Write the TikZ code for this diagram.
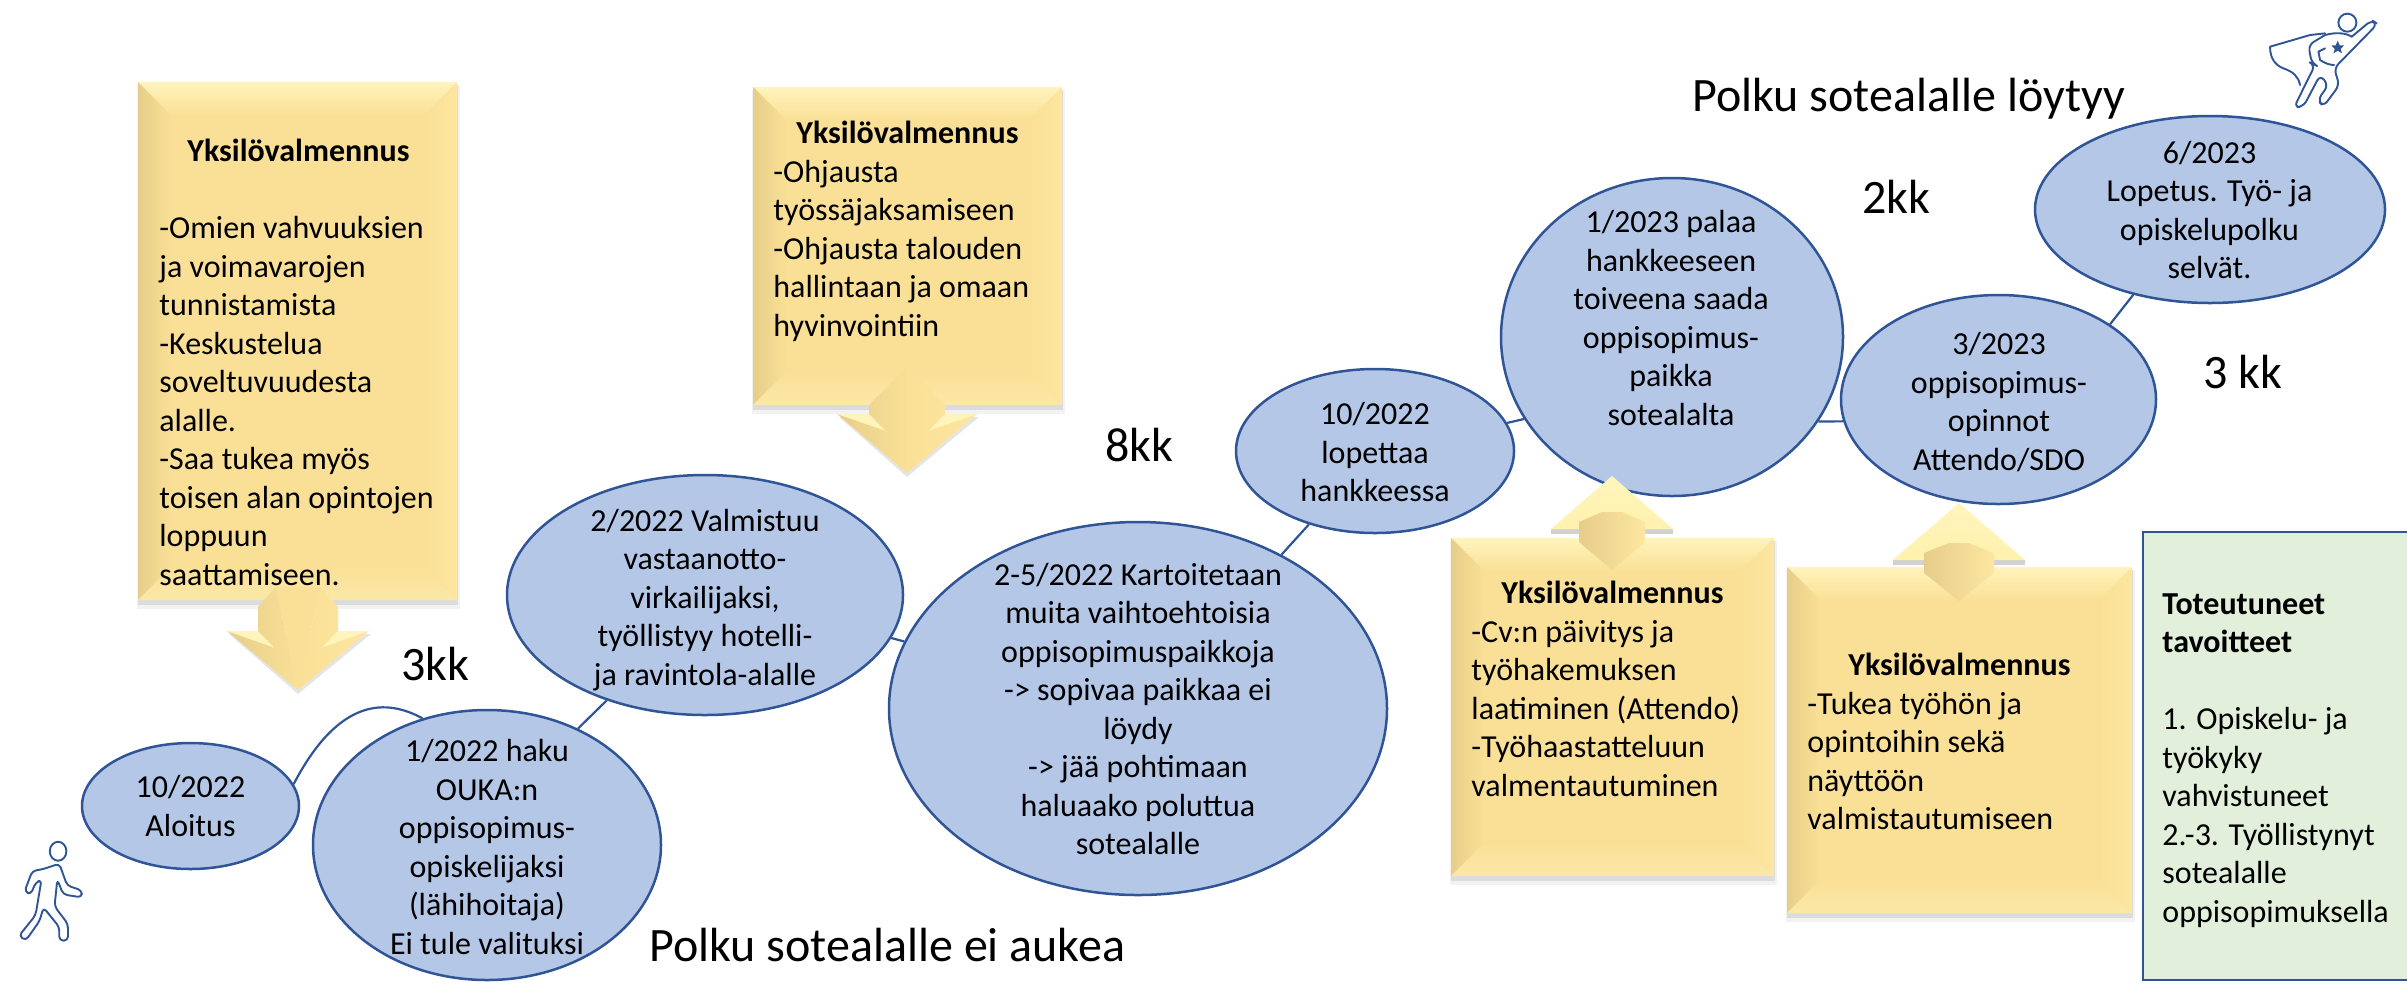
\documentclass[tikz,border=0pt]{standalone}
\usepackage{fontspec}
\setmainfont{Carlito}
\usetikzlibrary{shapes.geometric}
\definecolor{ovalfill}{HTML}{B4C7E7}
\definecolor{ovalline}{HTML}{2F5597}
\definecolor{ymid}{HTML}{FAE096}
\definecolor{ylight}{HTML}{FFF4BC}
\definecolor{ypale}{HTML}{FFF2AE}
\definecolor{ydark}{HTML}{E6CE8A}
\definecolor{yright}{HTML}{FDE6A0}
\definecolor{ybot}{HTML}{FBE8A8}
\definecolor{greenfill}{HTML}{E2EFDA}
\tikzset{
  oval/.style={ellipse,draw=ovalline,fill=ovalfill,line width=1.25pt,inner sep=0pt},
  conn/.style={draw=ovalline,line width=1.1pt},
  body/.style={font=\fontsize{16}{19.25}\selectfont,align=center,inner sep=0pt,text=black},
  lefttxt/.style={font=\fontsize{16}{19.25}\selectfont,align=left,inner sep=0pt,anchor=north west,text=black},
  biglbl/.style={font=\fontsize{24}{28}\selectfont,inner sep=0pt,anchor=base west,text=black},
  yelbox/.style={rectangle,fill=ymid,inner sep=0pt},
  icon/.style={draw=ovalline,line width=0.95pt,line join=round,line cap=round},
}
% name, x1, y1, x2, y2
\newcommand{\yelbevel}[5]{%
  \fill[black,opacity=.05] ({#2-1},{#3+3}) rectangle ({#4+3},{#5+9});
  \fill[black,opacity=.09] ({#2},{#3+3}) rectangle ({#4+1},{#5+5});
  \node[yelbox,minimum width={(#4-#2)*0.5pt},minimum height={(#5-#3)*0.5pt}] (#1) at ({(#2+#4)/2},{(#3+#5)/2}) {};
  \shade[top color=ylight,bottom color=ymid] (#2,#3) -- (#4,#3) -- ({#4-33},{#3+33}) -- ({#2+33},{#3+33}) -- cycle;
  \shade[left color=ydark,right color=ymid] (#2,#3) -- ({#2+33},{#3+33}) -- ({#2+33},{#5-33}) -- (#2,#5) -- cycle;
  \shade[left color=ymid,right color=yright] (#4,#3) -- ({#4-33},{#3+33}) -- ({#4-33},{#5-33}) -- (#4,#5) -- cycle;
  \shade[top color=ymid,bottom color=ybot] (#2,#5) -- ({#2+33},{#5-33}) -- ({#4-33},{#5-33}) -- (#4,#5) -- cycle;
}
% down arrow: cx, apex y, apex half, shoulder y, shaft half, base y, head half, tip y
\newcommand{\yelarrow}[8]{%
  \fill[black,opacity=.10] ({#1-#7+2},{#6+3}) -- ({#1},{#8+4}) -- ({#1+#7+2},{#6+3}) -- cycle;
  \shade[left color=ydark,right color=ymid] ({#1-#3},#2) -- ({#1-#5},#4) -- ({#1-#5},#6) -- ({#1-#7},#6) -- ({#1},#8) -- cycle;
  \shade[left color=ymid,right color=yright] ({#1+#3},#2) -- ({#1+#5},#4) -- ({#1+#5},#6) -- ({#1+#7},#6) -- ({#1},#8) -- cycle;
  \fill[ymid] ({#1-#3},#2) -- ({#1+#3},#2) -- ({#1},#8) -- cycle;
  \fill[ylight] ({#1-#7},#6) -- ({#1-#5},#6) -- ({#1-#5+16},{#6+(#8-#6)*0.28}) -- cycle;
  \fill[ylight] ({#1+#7},#6) -- ({#1+#5},#6) -- ({#1+#5-16},{#6+(#8-#6)*0.28}) -- cycle;
}
% up arrow: cx, lower tip y, shoulder y, shaft half, base y, head half, tip y
\newcommand{\yelarrowup}[7]{%
  \fill[black,opacity=.18] ({#1-#6},#5) rectangle ({#1+#6},{#5+5});
  \shade[top color=ylight,bottom color=ypale] ({#1-#6},#5) -- (#1,#7) -- ({#1+#6},#5) -- cycle;
  \shade[left color=ydark,right color=yright] (#1,#2) -- ({#1-#4},#3) -- ({#1-#4},{#5-7}) -- ({#1-10},{#5-17}) -- ({#1+10},{#5-17}) -- ({#1+#4},{#5-7}) -- ({#1+#4},#3) -- cycle;
}
\begin{document}
\begin{tikzpicture}[x=0.5pt,y=-0.5pt]
\useasboundingbox (0,0) rectangle (2407,987);

% ovals
\node[oval,minimum width=108.5pt,minimum height=63pt] (e1) at (190.5,806) {};
\node[oval,minimum width=174pt,minimum height=135pt] (e2) at (487,845) {};
\node[oval,minimum width=198pt,minimum height=120pt] (e3) at (705,595) {};
\node[oval,minimum width=249pt,minimum height=186.5pt] (e4) at (1138,708.5) {};
\node[oval,minimum width=139pt,minimum height=82pt] (e5) at (1375,451) {};
\node[oval,minimum width=171pt,minimum height=159pt] (e6) at (1672,337) {};
\node[oval,minimum width=157.5pt,minimum height=104.5pt] (e7) at (1998.5,399.5) {};
\node[oval,minimum width=175pt,minimum height=93.5pt] (e8) at (2210,209.5) {};

% connectors
\draw[conn] (e1.12) .. controls (335,705) and (380,695) .. (e2.117);
\draw[conn] (e2.52) -- (e3.227);
\draw[conn] (e3.-13) -- (e4.164);
\draw[conn] (e4.47) -- (e5.228);
\draw[conn] (e5.12) -- (e6.209);
\draw[conn] (e6.-30) -- (e7.188);
\draw[conn] (e7.34) -- (e8.228);

% oval texts
\node[body] (t1) at (190.5,806) {10/2022\\Aloitus};
\node[body] (t2) at (487,847) {1/2022 haku\\OUKA:n\\oppisopimus-\\opiskelijaksi\\(lähihoitaja)\\Ei tule valituksi};
\node[body] (t3) at (705,600) {2/2022 Valmistuu\\vastaanotto-\\virkailijaksi,\\työllistyy hotelli-\\ja ravintola-alalle};
\node[body] (t4) at (1138,709) {2-5/2022 Kartoitetaan\\muita vaihtoehtoisia\\oppisopimuspaikkoja\\-> sopivaa paikkaa ei\\löydy\\-> jää pohtimaan\\haluaako poluttua\\sotealalle};
\node[body] (t5) at (1375,452) {10/2022\\lopettaa\\hankkeessa};
\node[body] (t6) at (1671,318) {1/2023 palaa\\hankkeeseen\\toiveena saada\\oppisopimus-\\paikka\\sotealalta};
\node[body] (t7) at (1999,402) {3/2023\\oppisopimus-\\opinnot\\Attendo/SDO};
\node[body] (t8) at (2209.5,210) {6/2023\\Lopetus. Työ- ja\\opiskelupolku\\selvät.};

% yellow boxes
\yelbevel{b1}{138}{82}{457}{600}
\yelarrow{298}{587}{22}{607}{40}{631}{71}{690}
\yelbevel{b2}{753}{87}{1062}{405}
\yelarrow{907}{367}{0}{405}{38}{414}{70}{473}
\yelbevel{b3}{1451}{538}{1774}{876}
\yelarrowup{1612}{570}{542}{33}{529}{61}{476}
\yelbevel{b4}{1787}{567}{2132}{913}
\yelarrowup{1959}{601}{573}{35}{560}{66}{503}

% yellow box texts
\node[lefttxt] (y1) at (159,139) {\makebox[139pt][c]{\textbf{Yksilövalmennus}}\\[19.25pt]-Omien vahvuuksien\\ja voimavarojen\\tunnistamista\\-Keskustelua\\soveltuvuudesta\\alalle.\\-Saa tukea myös\\toisen alan opintojen\\loppuun\\saattamiseen.};
\node[lefttxt] (y2) at (773,121) {\makebox[134pt][c]{\textbf{Yksilövalmennus}}\\-Ohjausta\\työssäjaksamiseen\\-Ohjausta talouden\\hallintaan ja omaan\\hyvinvointiin};
\node[lefttxt] (y3) at (1471,581) {\makebox[141pt][c]{\textbf{Yksilövalmennus}}\\-Cv:n päivitys ja\\työhakemuksen\\laatiminen (Attendo)\\-Työhaastatteluun\\valmentautuminen};
\node[lefttxt] (y4) at (1807,653) {\makebox[152pt][c]{\textbf{Yksilövalmennus}}\\-Tukea työhön ja\\opintoihin sekä\\näyttöön\\valmistautumiseen};

% green box
\node[rectangle,draw=ovalline,fill=greenfill,line width=1.25pt,minimum width=134pt,minimum height=224pt,inner sep=0pt] (g) at (2277,756) {};
\node[lefttxt] (g1) at (2162,593) {\textbf{Toteutuneet}\\\textbf{tavoitteet}\\[19.25pt]1. Opiskelu- ja\\työkyky\\vahvistuneet\\2.-3. Työllistynyt\\sotealalle\\oppisopimuksella};

% big labels
\node[biglbl] (l1) at (401,680) {3kk};
\node[biglbl] (l2) at (1105,461) {8kk};
\node[biglbl] (l3) at (1862,213) {2kk};
\node[biglbl] (l4) at (2203,388) {3 kk};
\node[biglbl] (l5) at (1692,111) {Polku sotealalle löytyy};
\node[biglbl] (l6) at (649,961) {Polku sotealalle ei aukea};

% walker icon (zoom units)
\begin{scope}[shift={(0,60)},x=0.1976pt,y=-0.2959pt]
  \draw[icon] (147,1337) ellipse (21 and 16);
  \draw[icon,rounded corners=2pt] (105,1368) -- (150,1358) -- (170,1395) -- (207,1403) -- (207,1415) -- (160,1410) -- (145,1385) -- (138,1430) -- (172,1460) -- (172,1488) -- (150,1488) -- (150,1465) -- (110,1432) -- (100,1455) -- (65,1488) -- (48,1480) -- (90,1445) -- (105,1385) -- (90,1390) -- (78,1410) -- (62,1405) -- (82,1370) -- cycle;
\end{scope}

% hero icon (zoom units)
\begin{scope}[shift={(2150,0)},x=0.1667pt,y=-0.1667pt]
  \draw[icon] (592,68) circle (27);
  \draw[icon,rounded corners=3pt] (605,110) -- (665,60) -- (682,72) -- (552,205) -- (568,255) -- (520,320) -- (503,300) -- (535,255) -- (510,225) -- (460,320) -- (432,322) -- (495,195) -- (485,190) -- (475,135) -- (525,105);
  \draw[icon] (525,105) .. controls (560,95) and (590,100) .. (605,110);
  \draw[icon] (525,100) -- (480,105) -- (360,140) .. controls (360,175) and (375,195) .. (400,205) .. controls (430,215) and (445,230) .. (450,255);
  \draw[icon] (525,145) -- (505,155) -- (510,180) .. controls (525,190) and (540,195) .. (552,195);
  \fill[ovalline] (563,122) -- (569,136) -- (582,136) -- (572,147) -- (576,160) -- (563,152) -- (550,160) -- (554,147) -- (544,136) -- (557,136) -- cycle;
\end{scope}
\end{tikzpicture}
\end{document}
